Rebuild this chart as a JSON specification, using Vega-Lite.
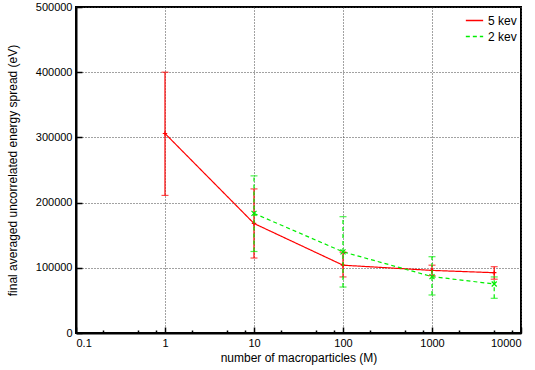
{
  "$schema": "https://vega.github.io/schema/vega-lite/v6.json",
  "width": 445,
  "height": 326,
  "autosize": "none",
  "padding": {"left": 76, "top": 7, "right": 14, "bottom": 37},
  "background": "white",
  "config": {
    "font": "Liberation Sans",
    "view": {"stroke": "black", "strokeWidth": 2},
    "axis": {
      "domainColor": "black",
      "domainWidth": 2,
      "tickColor": "black",
      "tickWidth": 1.5,
      "gridColor": "#444444",
      "gridDash": [1, 2],
      "gridWidth": 1,
      "gridOpacity": 1,
      "labelFont": "Liberation Sans",
      "labelFontSize": 11,
      "labelColor": "black",
      "titleFont": "Liberation Sans",
      "titleFontSize": 12,
      "titleFontWeight": "normal",
      "titleColor": "black"
    }
  },
  "data": {
    "values": [
      {"M": 1, "series": "5 kev", "y": 306000, "lo": 211000, "hi": 400000},
      {"M": 10, "series": "5 kev", "y": 168000, "lo": 115000, "hi": 221000},
      {"M": 100, "series": "5 kev", "y": 104000, "lo": 86000, "hi": 124000},
      {"M": 1000, "series": "5 kev", "y": 96000, "lo": 88000, "hi": 104000},
      {"M": 5000, "series": "5 kev", "y": 92500, "lo": 82500, "hi": 101700},
      {"M": 10, "series": "2 kev", "y": 183500, "lo": 125000, "hi": 241000},
      {"M": 100, "series": "2 kev", "y": 124500, "lo": 70500, "hi": 178400},
      {"M": 1000, "series": "2 kev", "y": 86500, "lo": 58300, "hi": 117000},
      {"M": 5000, "series": "2 kev", "y": 75200, "lo": 53200, "hi": 86000}
    ]
  },
  "encoding": {
    "x": {
      "field": "M",
      "type": "quantitative",
      "scale": {"type": "log", "domain": [0.1, 10000], "nice": false},
      "axis": {
        "title": "number of macroparticles (M)",
        "values": [0.1, 0.2, 0.5, 0.8, 1, 2, 5, 8, 10, 20, 50, 80, 100, 200, 500, 800, 1000, 2000, 5000, 8000, 10000],
        "labelExpr": "indexof([0.1,1,10,100,1000,10000], datum.value) >= 0 ? datum.label : ''",
        "format": "~g",
        "tickSize": {"condition": {"test": "indexof([0.1,1,10,100,1000,10000], datum.value) >= 0", "value": -6}, "value": -3},
        "gridOpacity": {"condition": {"test": "indexof([0.1,1,10,100,1000,10000], datum.value) >= 0", "value": 1}, "value": 0},
        "labelPadding": 10,
        "titlePadding": 4
      }
    },
    "y": {
      "field": "y",
      "type": "quantitative",
      "scale": {"domain": [0, 500000], "nice": false},
      "axis": {
        "title": "final averaged uncorrelated energy spread (eV)",
        "values": [0, 100000, 200000, 300000, 400000, 500000],
        "format": "d",
        "tickSize": -6,
        "labelPadding": 10,
        "titlePadding": 16
      }
    }
  },
  "layer": [
    {
      "mark": {"type": "line", "strokeWidth": 1.2},
      "encoding": {
        "order": {"field": "M", "type": "quantitative"},
        "color": {
          "field": "series",
          "type": "nominal",
          "scale": {"domain": ["5 kev", "2 kev"], "range": ["#ff0000", "#00ee00"]},
          "legend": {
            "title": null,
            "orient": "top-right",
            "symbolType": "stroke",
            "symbolSize": 300,
            "symbolStrokeWidth": 1.5,
            "labelFontSize": 12,
            "labelFont": "Liberation Sans",
            "offset": 4,
            "rowPadding": 0,
            "padding": 0
          }
        },
        "strokeDash": {
          "field": "series",
          "type": "nominal",
          "scale": {"domain": ["5 kev", "2 kev"], "range": [[1, 0], [4, 3]]},
          "legend": {
            "title": null,
            "orient": "top-right",
            "symbolType": "stroke",
            "symbolSize": 300,
            "symbolStrokeWidth": 1.5,
            "labelFontSize": 12,
            "labelFont": "Liberation Sans",
            "offset": 4,
            "rowPadding": 0,
            "padding": 0
          }
        }
      }
    },
    {
      "transform": [{"filter": "datum.series === '5 kev'"}],
      "layer": [
        {
          "mark": {"type": "rule", "strokeWidth": 1.2, "color": "#ff0000"},
          "encoding": {"y": {"field": "lo", "type": "quantitative"}, "y2": {"field": "hi"}}
        },
        {
          "mark": {"type": "tick", "orient": "horizontal", "size": 7, "thickness": 1.2, "color": "#ff0000"},
          "encoding": {"y": {"field": "lo", "type": "quantitative"}}
        },
        {
          "mark": {"type": "tick", "orient": "horizontal", "size": 7, "thickness": 1.2, "color": "#ff0000"},
          "encoding": {"y": {"field": "hi", "type": "quantitative"}}
        },
        {
          "mark": {"type": "point", "filled": false, "strokeWidth": 1.2, "size": 20, "opacity": 1, "color": "#ff0000", "shape": "M-1,0L1,0M0,-1L0,1"}
        }
      ]
    },
    {
      "transform": [{"filter": "datum.series === '2 kev'"}],
      "layer": [
        {
          "mark": {"type": "rule", "strokeWidth": 1.2, "color": "#00ee00", "strokeDash": [4, 3]},
          "encoding": {"y": {"field": "lo", "type": "quantitative"}, "y2": {"field": "hi"}}
        },
        {
          "mark": {"type": "tick", "orient": "horizontal", "size": 7, "thickness": 1.2, "color": "#00ee00"},
          "encoding": {"y": {"field": "lo", "type": "quantitative"}}
        },
        {
          "mark": {"type": "tick", "orient": "horizontal", "size": 7, "thickness": 1.2, "color": "#00ee00"},
          "encoding": {"y": {"field": "hi", "type": "quantitative"}}
        },
        {
          "mark": {"type": "point", "filled": false, "strokeWidth": 1.2, "size": 25, "opacity": 1, "color": "#00ee00", "shape": "M-1,-1L1,1M1,-1L-1,1"}
        }
      ]
    }
  ]
}
